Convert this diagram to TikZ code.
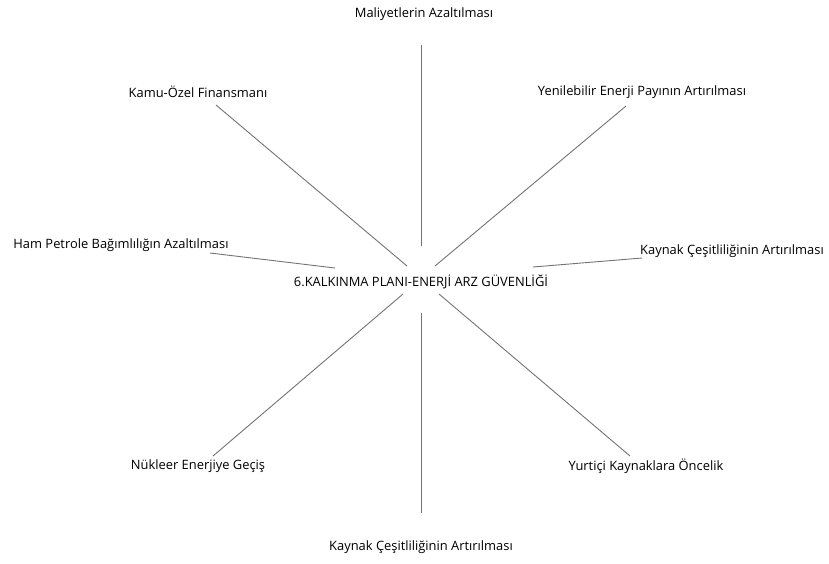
\documentclass[tikz,border=0pt]{standalone}
\usepackage{fontspec}
\setmainfont{Open Sans}
\begin{document}
\begin{tikzpicture}[x=1pt,y=-1pt,
  lbl/.style={inner sep=0pt,font=\fontsize{12.9}{15}\selectfont},
  conn/.style={draw=black!55,line width=0.9pt}]
\useasboundingbox (0,0) rectangle (829,563);
% labels
\node[lbl] (center) at (421,282) {6.KALKINMA PLANI-ENERJİ ARZ GÜVENLİĞİ};
\node[lbl] (top) at (424,14) {Maliyetlerin Azaltılması};
\node[lbl] (ul) at (198,92) {Kamu-Özel Finansmanı};
\node[lbl] (ur) at (642,92) {Yenilebilir Enerji Payının Artırılması};
\node[lbl] (l) at (121,245) {Ham Petrole Bağımlılığın Azaltılması};
\node[lbl] (r) at (732,251) {Kaynak Çeşitliliğinin Artırılması};
\node[lbl] (ll) at (198,466) {Nükleer Enerjiye Geçiş};
\node[lbl] (lr) at (646,466) {Yurtiçi Kaynaklara Öncelik};
\node[lbl] (bot) at (421,547) {Kaynak Çeşitliliğinin Artırılması};
% connector ends
\coordinate (topA) at (421,45);   \coordinate (topB) at (421,246);
\coordinate (botA) at (421,313);  \coordinate (botB) at (421,513);
\coordinate (ulA) at (216,105);   \coordinate (ulB) at (407,266);
\coordinate (urA) at (626,106);   \coordinate (urB) at (435,266);
\coordinate (llA) at (403,294);   \coordinate (llB) at (213,456);
\coordinate (lrA) at (439,294);   \coordinate (lrB) at (630,456);
\coordinate (lA) at (210,253);    \coordinate (lB) at (335,268);
\coordinate (rA) at (533,267);    \coordinate (rB) at (642,258);
\draw[conn] (topA) -- (topB);
\draw[conn] (botA) -- (botB);
\draw[conn] (ulA) -- (ulB);
\draw[conn] (urA) -- (urB);
\draw[conn] (llA) -- (llB);
\draw[conn] (lrA) -- (lrB);
\draw[conn] (lA) -- (lB);
\draw[conn] (rA) -- (rB);
\end{tikzpicture}
\end{document}
